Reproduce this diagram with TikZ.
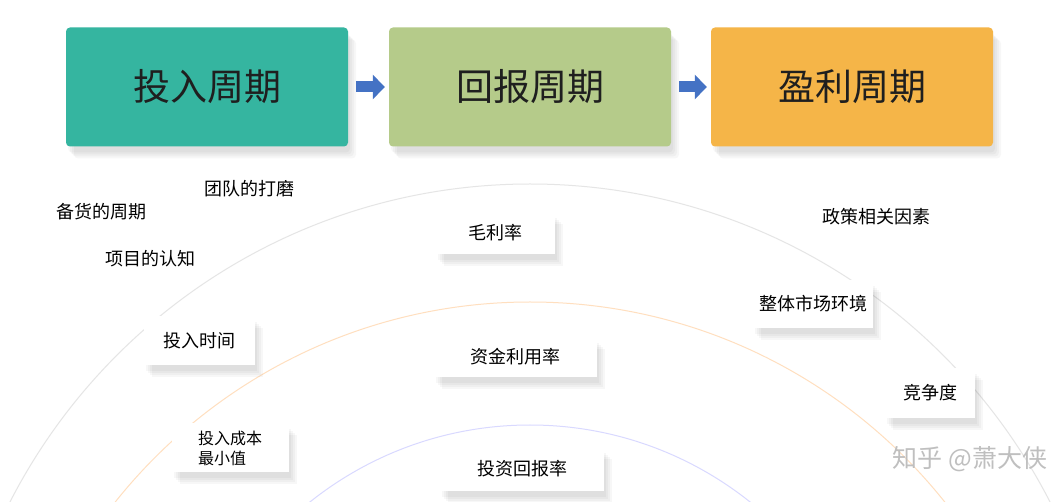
\documentclass[tikz,border=0pt]{standalone}
\usepackage{fontspec}
\setmainfont{Noto Sans CJK SC}
\usetikzlibrary{arrows.meta,calc}
\definecolor{teal}{HTML}{35B5A0}
\definecolor{grn}{HTML}{B5CB8A}
\definecolor{org}{HTML}{F5B548}
\definecolor{arr}{HTML}{4472C4}
\begin{document}
\begin{tikzpicture}[x=1pt,y=-1pt,
 sh/.style={preaction={fill=black,opacity=0.03,transform canvas={xshift=#1pt,yshift=-#1pt-4pt}}},
 soft/.style={sh=2,sh=4,sh=6,sh=8},
 head/.style={minimum width=282pt,minimum height=119pt,rounded corners=4pt,font=\fontsize{37}{37}\selectfont,text=black!88,soft},
 lbl/.style={fill=white,font=\fontsize{18}{21}\selectfont,inner sep=4pt,soft},
 txt/.style={font=\fontsize{18}{21}\selectfont},
 blk/.style={-{Triangle[length=12pt,width=24pt]},line width=11pt,arr}]
\useasboundingbox (0,0) rectangle (1058,502);
\fill[white] (0,0) rectangle (1058,502);
\begin{scope}
\clip (0,0) rectangle (1058,502);
\draw[black!10,line width=1pt] (530,768) circle (584);
\draw[orange!25,line width=1pt] (530,832) circle (530);
\draw[blue!15,line width=1pt] (530,778) circle (353);
\end{scope}
\node[head,fill=teal] (a) at (207,87) {投入周期};
\node[head,fill=grn] (b) at (530,87) {回报周期};
\node[head,fill=org] (c) at (852,87) {盈利周期};
\draw[blk] ($(a.east)+(8,0)$) -- ($(b.west)+(-4,0)$);
\draw[blk] ($(b.east)+(8,0)$) -- ($(c.west)+(-4,0)$);
\node[txt] (t1) at (249,189) {团队的打磨};
\node[txt] (t2) at (101,212) {备货的周期};
\node[txt] (t3) at (150,259) {项目的认知};
\node[txt] (t4) at (876,217) {政策相关因素};
\node[lbl,minimum width=119pt,minimum height=42pt] (l1) at (495,233) {毛利率};
\node[lbl,minimum width=111pt,minimum height=49pt] (l2) at (199,341) {投入时间};
\node[lbl,minimum width=163pt,minimum height=40pt] (l3) at (515,357) {资金利用率};
\node[lbl,minimum width=120pt,minimum height=48pt] (l4) at (813,304) {整体市场环境};
\node[lbl,minimum width=90pt,minimum height=50pt] (l5) at (930,393) {竞争度};
\node[lbl,align=left,minimum width=117pt,minimum height=49pt,font=\fontsize{16}{20}\selectfont] (l6) at (230,448) {投入成本\\最小值};
\node[lbl,minimum width=164pt,minimum height=44pt] (l7) at (522,469) {投资回报率};
\node[txt,text=black!25,font=\fontsize{25}{25}\selectfont] (w) at (970,459) {知乎 @萧大侠};
\end{tikzpicture}
\end{document}
